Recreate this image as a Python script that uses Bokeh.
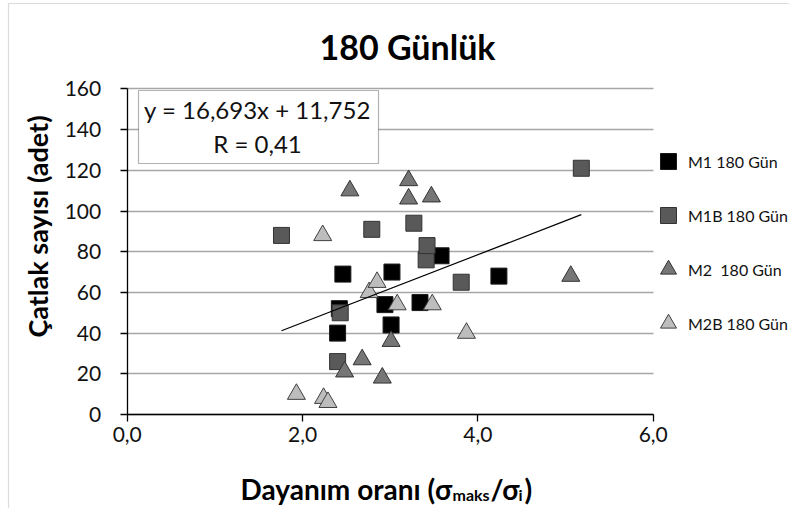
import math
from bokeh.plotting import figure
from bokeh.models import Range1d, FixedTicker, Label, BoxAnnotation, Legend, LegendItem
from bokeh.embed import file_html
from bokeh.resources import INLINE

# ---- data ----
m1_x = [2.40, 2.42, 2.46, 2.94, 3.01, 3.02, 3.34, 3.58, 4.24]
m1_y = [40, 52, 69, 54, 44, 70, 55, 78, 68]
m1b_x = [1.76, 2.40, 2.43, 2.79, 3.27, 3.41, 3.42, 3.81, 5.18]
m1b_y = [88, 26, 50, 91, 94, 76, 83, 65, 121]
m2_x = [2.48, 2.54, 2.68, 2.91, 3.01, 3.21, 3.21, 3.47, 5.06]
m2_y = [21, 110, 27, 18, 36, 115, 106, 107, 68]
m2b_x = [1.93, 2.23, 2.24, 2.29, 2.76, 2.85, 3.08, 3.48, 3.87]
m2b_y = [10, 88, 8, 6, 60, 65, 54, 54, 40]

series_names = ["M1 180 Gün", "M1B 180 Gün", "M2  180 Gün", "M2B 180 Gün"]
trend_slope = 16.693
trend_intercept = 11.752
equation_text = "y = 16,693x + 11,752"
r_text = "R = 0,41"
title_text = "180 Günlük"
y_title = "Çatlak sayısı (adet)"
x_ticks = [0, 2, 4, 6]
x_tick_labels = ["0,0", "2,0", "4,0", "6,0"]
y_ticks = [0, 20, 40, 60, 80, 100, 120, 140, 160]
y_tick_labels = ["0", "20", "40", "60", "80", "100", "120", "140", "160"]

# ---- layout (pixel geometry of the plot area) ----
W, H = 789, 508
X0, X1, Y0, Y1 = 0, 6, 0, 160
PX0, PX1 = 126.7, 652.7      # px of x=0 and x=6
PY0, PY1 = 414.0, 88.4       # px of y=0 and y=160
SX = (PX1 - PX0) / (X1 - X0)
SY = (PY0 - PY1) / (Y1 - Y0)

def px_x(px):
    return X0 + (px - PX0) / SX

def px_y(py):
    return Y0 + (PY0 - py) / SY

FONT = "Lato"

p = figure(width=W, height=H, output_backend="svg", toolbar_location=None,
           x_range=Range1d(px_x(0), px_x(W)), y_range=Range1d(px_y(H), px_y(0)), title=None,
           min_border_left=0, min_border_right=0, min_border_top=0, min_border_bottom=0)
p.background_fill_color = "white"
p.border_fill_color = "white"
p.outline_line_color = None

# outer chart border (right/bottom edges fall outside the canvas, as in the reference crop)
p.add_layout(BoxAnnotation(left=px_x(8), right=px_x(800), top=px_y(3), bottom=px_y(521),
                           fill_alpha=0, line_color="#8c8c8c", line_width=1.2, level="underlay"))

p.xgrid.grid_line_color = None
p.ygrid.grid_line_color = "#a6a6a6"
p.ygrid.grid_line_width = 1.5
p.ygrid.bounds = (Y0 - 1, Y1 + 1)
try:
    p.ygrid.cross_bounds = (X0, X1)
    manual_grid = False
except Exception:
    p.ygrid.grid_line_color = None
    manual_grid = True

for ax in (p.xaxis[0], p.yaxis[0]):
    ax.fixed_location = 0
    ax.axis_line_color = "black"
    ax.axis_line_width = 1.3
    ax.major_tick_line_color = "black"
    ax.major_tick_line_width = 1.3
    ax.major_tick_out = 7
    ax.major_tick_in = 0
    ax.minor_tick_line_color = None
    ax.major_label_text_font = FONT
    ax.major_label_text_font_size = "21px"
    ax.major_label_text_color = "#111111"

p.xaxis.bounds = (X0, X1)
p.yaxis.bounds = (Y0, Y1)
p.xaxis.ticker = FixedTicker(ticks=x_ticks)
p.xaxis.major_label_overrides = {t: l for t, l in zip(x_ticks, x_tick_labels)}
p.xaxis.major_label_standoff = 5
p.yaxis.ticker = FixedTicker(ticks=y_ticks)
p.yaxis.major_label_overrides = {t: l for t, l in zip(y_ticks, y_tick_labels)}
p.yaxis.major_label_standoff = 19

if manual_grid:
    p.segment(x0=[X0] * len(y_ticks), x1=[X1] * len(y_ticks), y0=y_ticks, y1=y_ticks,
              line_color="#a6a6a6", line_width=1.5, level="underlay")

# ---- series ----
r1 = p.scatter(m1_x, m1_y, marker="square", size=16, fill_color="#000000", line_color="#1a1a1a", line_width=1)
r2 = p.scatter(m1b_x, m1b_y, marker="square", size=16, fill_color="#595959", line_color="#333333", line_width=1)
r3 = p.scatter(m2_x, m2_y, marker="triangle", size=18, fill_color="#767676", line_color="#333333", line_width=1)
r4 = p.scatter(m2b_x, m2b_y, marker="triangle", size=18, fill_color="#bdbdbd", line_color="#404040", line_width=1)

all_x = m1_x + m1b_x + m2_x + m2b_x
tx = [min(all_x), max(all_x)]
ty = [trend_slope * v + trend_intercept for v in tx]
p.line(tx, ty, line_color="black", line_width=1.2)

# ---- legend ----
legend = Legend(items=[LegendItem(label=n, renderers=[r]) for n, r in zip(series_names, [r1, r2, r3, r4])],
                location=(648, H - 343), orientation="vertical",
                glyph_width=40, glyph_height=40, label_standoff=0, spacing=14, padding=0, margin=0,
                border_line_color=None, background_fill_alpha=0,
                label_text_font=FONT, label_text_font_size="16px", label_text_color="#111111")
p.add_layout(legend)

# ---- equation box ----
p.add_layout(BoxAnnotation(left=px_x(138), right=px_x(378), top=px_y(90), bottom=px_y(163),
                           fill_color="white", fill_alpha=1, line_color="black", line_width=1.2))
p.add_layout(Label(x=px_x(257), y=px_y(109), text=equation_text, text_align="center", text_baseline="middle",
                   text_font=FONT, text_font_size="24px", text_color="#111111"))
p.add_layout(Label(x=px_x(257), y=px_y(143), text=r_text, text_align="center", text_baseline="middle",
                   text_font=FONT, text_font_size="24px", text_color="#111111"))

# ---- titles ----
p.add_layout(Label(x=px_x(407), y=px_y(46), text=title_text, text_align="center", text_baseline="middle",
                   text_font=FONT, text_font_size="34px", text_font_style="bold", text_color="black"))
p.add_layout(Label(x=px_x(37), y=px_y(226), text=y_title, angle=math.pi / 2, text_align="center",
                   text_baseline="middle", text_font=FONT, text_font_size="27px", text_font_style="bold",
                   text_color="black"))

# x title built from pieces for the subscripts
xb = px_y(488)
xs = px_y(494)
pieces = [("Dayanım oranı (σ", 451, xb, "28px", "right"),
          ("maks", 452, xs, "16px", "left"),
          ("/σ", 490, xb, "28px", "left"),
          ("i", 518, xs, "16px", "left"),
          (")", 524, xb, "28px", "left")]
for t, x, y, fs, al in pieces:
    p.add_layout(Label(x=px_x(x), y=y, text=t, text_align=al, text_baseline="middle",
                       text_font=FONT, text_font_size=fs, text_font_style="bold", text_color="black"))

open("out.html", "w").write(file_html(p, INLINE))
